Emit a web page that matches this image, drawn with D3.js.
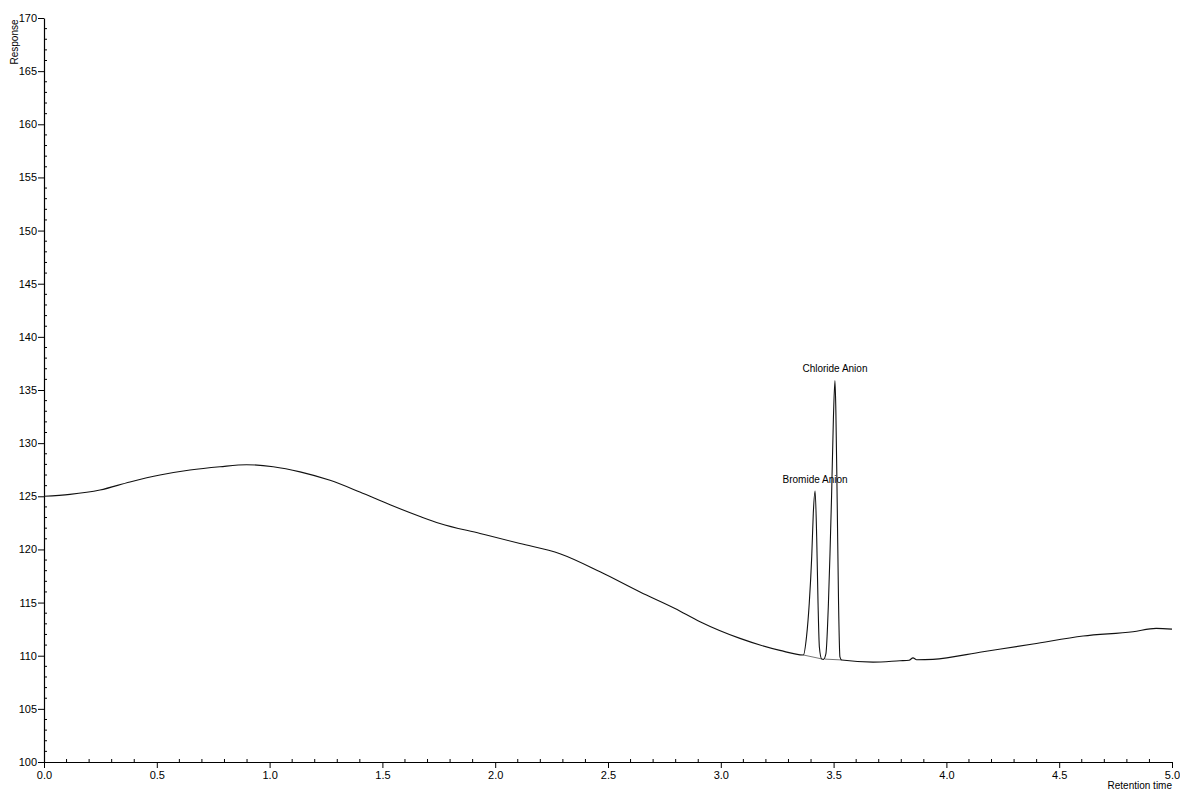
<!DOCTYPE html>
<html>
<head>
<meta charset="utf-8">
<script src="https://cdn.jsdelivr.net/npm/d3@7/dist/d3.min.js"></script>
<style>
  html, body { margin: 0; padding: 0; background: #fff; }
  svg { display: block; font-family: "Liberation Sans", Arial, sans-serif; }
</style>
</head>
<body>
<svg id="chart" width="1180" height="794"></svg>
<script>
// ---- data ----
const retentionTime = [
  0.000, 0.115, 0.248, 0.381, 0.514, 0.647, 0.780, 0.898, 1.016, 1.135,
  1.268, 1.400, 1.534, 1.667, 1.755, 1.933, 2.110, 2.287, 2.465, 2.642,
  2.797, 2.908, 3.085, 3.262, 3.366, 3.380, 3.392, 3.403, 3.410, 3.418,
  3.425, 3.431, 3.437, 3.447, 3.455, 3.466, 3.477, 3.484, 3.491, 3.499,
  3.506, 3.510, 3.516, 3.522, 3.528, 3.536, 3.675, 3.794, 3.835, 3.852,
  3.868, 3.940, 4.162, 4.384, 4.606, 4.827, 4.930, 5.000
];
const response = [
  125.00, 125.18, 125.59, 126.35, 127.00, 127.47, 127.78, 127.97, 127.78, 127.30,
  126.50, 125.40, 124.20, 123.10, 122.44, 121.50, 120.56, 119.60, 117.90, 116.00,
  114.45, 113.20, 111.63, 110.50, 110.07, 111.80, 114.90, 119.30, 123.40, 125.50,
  121.20, 114.95, 110.80, 109.70, 109.66, 110.20, 114.90, 119.60, 125.00, 132.20,
  135.90, 133.10, 124.40, 114.90, 109.90, 109.60, 109.40, 109.53, 109.58, 109.80,
  109.62, 109.66, 110.38, 111.10, 111.85, 112.26, 112.57, 112.50
];
const peakNames = ["Bromide Anion", "Chloride Anion"];
const peakTimes = [3.418, 3.506];
const peakHeights = [125.5, 135.9];
const baselineStart = [[3.366, 110.07], [3.462, 109.68]];
const baselineEnd = [[3.447, 109.70], [3.536, 109.60]];
const xTicks = [0.0, 0.5, 1.0, 1.5, 2.0, 2.5, 3.0, 3.5, 4.0, 4.5, 5.0];
const yTicks = [100, 105, 110, 115, 120, 125, 130, 135, 140, 145, 150, 155, 160, 165, 170];

// ---- layout ----
const svg = d3.select("#chart");
const L = 44, R = 1172, T = 18, B = 762;
const x = d3.scaleLinear().domain([0, 5]).range([L, R]);
const y = d3.scaleLinear().domain([100, 170]).range([B, T]);

// minor ticks
const xMinor = d3.range(0, 5.0001, 0.1).filter(v => Math.abs(v * 2 - Math.round(v * 2)) > 1e-6);
const yMinor = d3.range(100, 170.0001, 1).filter(v => v % 5 !== 0);

const gx = svg.append("g").attr("transform", `translate(0,${B})`);
gx.call(d3.axisBottom(x).tickValues(xTicks).tickFormat(d3.format(".1f")).tickSize(6).tickSizeOuter(0).tickPadding(3));
gx.append("g").selectAll("line").data(xMinor).join("line")
  .attr("x1", d => x(d)).attr("x2", d => x(d)).attr("y1", 0).attr("y2", -3)
  .attr("stroke", "#000");

const gy = svg.append("g").attr("transform", `translate(${L},0)`);
gy.call(d3.axisLeft(y).tickValues(yTicks).tickSize(6).tickSizeOuter(0).tickPadding(1));
gy.append("g").selectAll("line").data(yMinor).join("line")
  .attr("y1", d => y(d)).attr("y2", d => y(d)).attr("x1", 0).attr("x2", 3)
  .attr("stroke", "#000");

svg.selectAll(".domain").attr("stroke", "#000").attr("stroke-width", 1.2);
svg.selectAll(".tick line").attr("stroke", "#000");
svg.selectAll(".tick text").attr("font-size", 11).attr("fill", "#000")
  .attr("font-family", "'Liberation Sans', Arial, sans-serif");

// axis titles
svg.append("text").attr("transform", `translate(18,${42}) rotate(-90)`)
  .attr("text-anchor", "middle").attr("font-size", 10).text("Response");
svg.append("text").attr("x", R).attr("y", 789).attr("text-anchor", "end")
  .attr("font-size", 10).text("Retention time");

// integration baselines
svg.append("g").selectAll("line").data(baselineStart).join("line")
  .attr("x1", d => x(d[0])).attr("y1", d => y(d[1]))
  .attr("x2", (d, i) => x(baselineEnd[i][0])).attr("y2", (d, i) => y(baselineEnd[i][1]))
  .attr("stroke", "#777").attr("stroke-width", 1);

// trace
const pts = retentionTime.map((t, i) => [t, response[i]]);
const line = d3.line().x(d => x(d[0])).y(d => y(d[1])).curve(d3.curveMonotoneX);
svg.append("path").datum(pts).attr("d", line)
  .attr("fill", "none").attr("stroke", "#111").attr("stroke-width", 1.1);

// peak labels
svg.append("g").selectAll("text").data(peakNames).join("text")
  .attr("x", (d, i) => x(peakTimes[i]))
  .attr("y", (d, i) => y(peakHeights[i]) - 8)
  .attr("text-anchor", "middle").attr("font-size", 10).text(d => d);
</script>
</body>
</html>
